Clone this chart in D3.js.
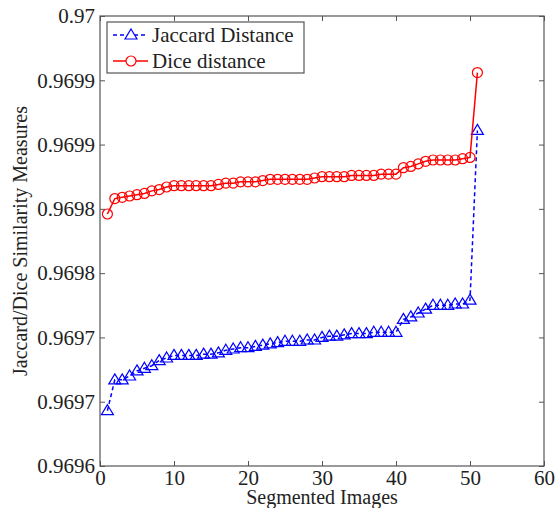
<!DOCTYPE html>
<html>
<head>
<meta charset="utf-8">
<script src="https://cdn.jsdelivr.net/npm/d3@7"></script>
<style>
  body { margin: 0; background: #fff; }
  text { font-family: "Liberation Serif", "Times New Roman", serif; fill: #222; }
</style>
</head>
<body>
<div id="chart"></div>
<script>
// Données
const imageIndex = d3.range(1, 52);
const jaccardValues = [
  0.969643, 0.969667, 0.969667, 0.969670, 0.969674, 0.969676, 0.969678, 0.969682, 0.969684, 0.969686,
  0.969686, 0.969686, 0.969686, 0.969687, 0.969687, 0.969688, 0.969690, 0.969691, 0.969692, 0.969692,
  0.969693, 0.969694, 0.969695, 0.969696, 0.969697, 0.969697, 0.969697, 0.969698, 0.969698, 0.969700,
  0.969701, 0.969701, 0.969702, 0.969703, 0.969703, 0.969703, 0.969704, 0.969704, 0.969704, 0.969704,
  0.969714, 0.969716, 0.969719, 0.969722, 0.969725, 0.969725, 0.969725, 0.969726, 0.969726, 0.969729,
  0.969861
];
const diceValues = [
  0.969796, 0.969808, 0.969809, 0.969810, 0.969811, 0.969812, 0.969814, 0.969815, 0.969817, 0.969818,
  0.969818, 0.969818, 0.969818, 0.969818, 0.969818, 0.969819, 0.969820, 0.969820, 0.969821, 0.969821,
  0.969821, 0.969822, 0.969823, 0.969823, 0.969823, 0.969823, 0.969823, 0.969823, 0.969824, 0.969825,
  0.969825, 0.969825, 0.969825, 0.969826, 0.969826, 0.969826, 0.969826, 0.969827, 0.969827, 0.969827,
  0.969832, 0.969833, 0.969835, 0.969837, 0.969838, 0.969838, 0.969838, 0.969838, 0.969839, 0.969840,
  0.969906
];
const seriesNames = ["Jaccard Distance", "Dice distance"];
const xTicks = [0, 10, 20, 30, 40, 50, 60];
const yTicks = [0.9696, 0.96965, 0.9697, 0.96975, 0.9698, 0.96985, 0.9699, 0.96995];
const yTickLabels = ["0.9696", "0.9697", "0.9697", "0.9698", "0.9698", "0.9699", "0.9699", "0.97"];

// Dimensions
const width = 555;
const height = 508;
const margin = { top: 16, right: 11, bottom: 42, left: 100 };
const serif = '"Liberation Serif", "Times New Roman", serif';

const svg = d3
  .select("#chart")
  .append("svg")
  .attr("width", width)
  .attr("height", height);

const x = d3.scaleLinear().domain([0, 60]).range([margin.left, width - margin.right]);
const y = d3.scaleLinear().domain([0.9696, 0.96995]).range([height - margin.bottom, margin.top]);

const axisColor = "#555";

// Axes (ticks vers l'intérieur, sur les quatre côtés)
function styleAxis(g) {
  g.attr("font-family", serif).attr("font-size", 21);
  g.select(".domain").remove();
  g.selectAll(".tick line").attr("stroke", axisColor);
  g.selectAll(".tick text")
    .style("font-family", serif)
    .style("font-size", "21px")
    .attr("fill", "#222");
}

svg.append("g")
  .attr("transform", `translate(0,${y.range()[0]})`)
  .call(d3.axisBottom(x).tickValues(xTicks).tickSize(-5).tickPadding(4).tickFormat(d3.format("d")))
  .call(styleAxis);

svg.append("g")
  .attr("transform", `translate(0,${y.range()[1]})`)
  .call(d3.axisTop(x).tickValues(xTicks).tickSize(-5).tickFormat(""))
  .call(styleAxis);

svg.append("g")
  .attr("transform", `translate(${x.range()[0]},0)`)
  .call(d3.axisLeft(y).tickValues(yTicks).tickSize(-5).tickPadding(5)
    .tickFormat((d, i) => yTickLabels[i]))
  .call(styleAxis);

svg.append("g")
  .attr("transform", `translate(${x.range()[1]},0)`)
  .call(d3.axisRight(y).tickValues(yTicks).tickSize(-5).tickFormat(""))
  .call(styleAxis);

// Cadre
svg.append("rect")
  .attr("x", x.range()[0])
  .attr("y", y.range()[1])
  .attr("width", x.range()[1] - x.range()[0])
  .attr("height", y.range()[0] - y.range()[1])
  .attr("fill", "none")
  .attr("stroke", axisColor)
  .attr("stroke-width", 1.2);

// Marqueurs
const triangle = "M0,-6L6,4L-6,4Z";

const line = d3.line().x((d) => x(d[0])).y((d) => y(d[1]));
const jaccard = imageIndex.map((d, i) => [d, jaccardValues[i]]);
const dice = imageIndex.map((d, i) => [d, diceValues[i]]);

svg.append("path")
  .datum(jaccard)
  .attr("d", line)
  .attr("fill", "none")
  .attr("stroke", "#0000ff")
  .attr("stroke-width", 1.5)
  .attr("stroke-dasharray", "4,3");

svg.append("g")
  .selectAll("path")
  .data(jaccard)
  .enter()
  .append("path")
  .attr("d", triangle)
  .attr("transform", (d) => `translate(${x(d[0])},${y(d[1])})`)
  .attr("fill", "none")
  .attr("stroke", "#0000ff")
  .attr("stroke-width", 1.2);

svg.append("path")
  .datum(dice)
  .attr("d", line)
  .attr("fill", "none")
  .attr("stroke", "#ff0000")
  .attr("stroke-width", 1.5);

svg.append("g")
  .selectAll("circle")
  .data(dice)
  .enter()
  .append("circle")
  .attr("cx", (d) => x(d[0]))
  .attr("cy", (d) => y(d[1]))
  .attr("r", 5)
  .attr("fill", "none")
  .attr("stroke", "#ff0000")
  .attr("stroke-width", 1.2);

// Légende
const legend = svg.append("g").attr("transform", "translate(107,22)");
legend.append("rect")
  .attr("width", 197)
  .attr("height", 51)
  .attr("fill", "#fff")
  .attr("stroke", axisColor)
  .attr("stroke-width", 1.2);

const entries = legend.selectAll(".entry")
  .data(seriesNames)
  .enter()
  .append("g")
  .attr("transform", (d, i) => `translate(0,${13 + i * 26})`);

entries.append("line")
  .attr("x1", 6)
  .attr("x2", 41)
  .attr("stroke", (d, i) => (i === 0 ? "#0000ff" : "#ff0000"))
  .attr("stroke-width", 1.5)
  .attr("stroke-dasharray", (d, i) => (i === 0 ? "4,3" : null));

entries.filter((d, i) => i === 0)
  .append("path")
  .attr("d", triangle)
  .attr("transform", "translate(24,0)")
  .attr("fill", "#fff")
  .attr("stroke", "#0000ff")
  .attr("stroke-width", 1.2);

entries.filter((d, i) => i === 1)
  .append("circle")
  .attr("cx", 24)
  .attr("r", 5)
  .attr("fill", "#fff")
  .attr("stroke", "#ff0000")
  .attr("stroke-width", 1.2);

entries.append("text")
  .attr("x", 45)
  .attr("dy", "0.35em")
  .style("font-size", "21px")
  .text((d) => d);

// Titres des axes
svg.append("text")
  .attr("x", (x.range()[0] + x.range()[1]) / 2)
  .attr("y", height - 4)
  .attr("text-anchor", "middle")
  .style("font-size", "20px")
  .text("Segmented Images");

svg.append("text")
  .attr("transform", `translate(27,${(y.range()[0] + y.range()[1]) / 2}) rotate(-90)`)
  .attr("text-anchor", "middle")
  .style("font-size", "20px")
  .text("Jaccard/Dice Similarity Measures");
</script>
</body>
</html>
